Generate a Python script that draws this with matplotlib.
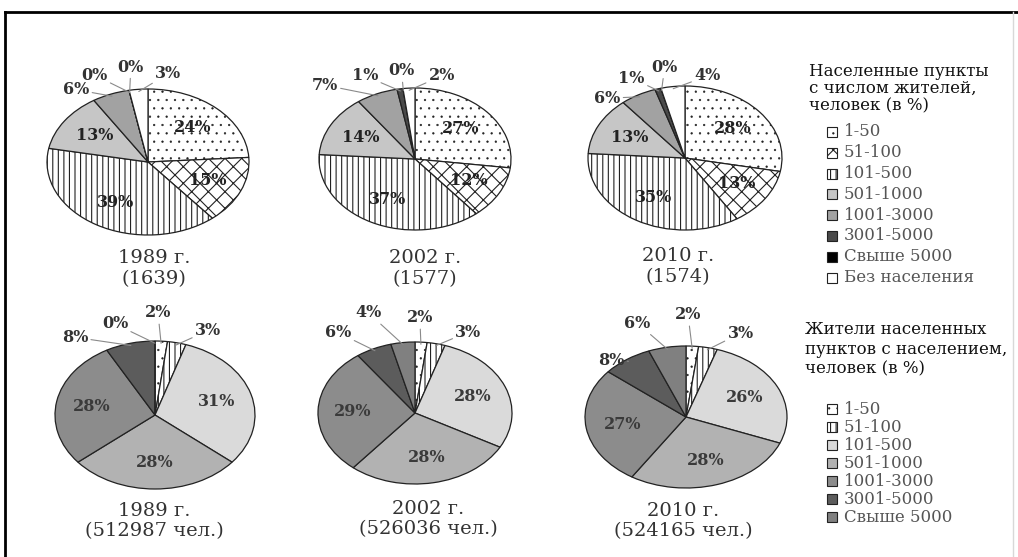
import matplotlib
matplotlib.use("Agg")
import matplotlib.pyplot as plt
from matplotlib.lines import Line2D
from matplotlib.patches import Rectangle
import numpy as np

plt.rcParams['font.family'] = ['DejaVu Serif']
plt.rcParams['hatch.linewidth'] = 0.8

# settlements by size group, share of settlements (%)
years = ['1989 г.', '2002 г.', '2010 г.']
settl_totals = ['(1639)', '(1577)', '(1574)']
settl_groups = ['1-50', '51-100', '101-500', '501-1000', '1001-3000',
                '3001-5000', 'Свыше 5000', 'Без населения']
settl_1989 = [24, 15, 39, 13, 6, 0, 0, 3]
settl_2002 = [27, 12, 37, 14, 7, 1, 0, 2]
settl_2010 = [28, 13, 35, 13, 6, 1, 0, 4]

# residents by settlement size group (%)
resid_totals = ['(512987 чел.)', '(526036 чел.)', '(524165 чел.)']
resid_groups = ['1-50', '51-100', '101-500', '501-1000', '1001-3000',
                '3001-5000', 'Свыше 5000']
resid_1989 = [2, 3, 31, 28, 28, 8, 0]
resid_2002 = [2, 3, 28, 28, 29, 6, 4]
resid_2010 = [2, 3, 26, 28, 27, 8, 6]

settl_title = ['Населенные пункты', 'с числом жителей,', 'человек (в %)']
resid_title = ['Жители населенных', 'пунктов с населением,', 'человек (в %)']

# styles
settl_colors = ['white', 'white', 'white', '#c6c6c6', '#a2a2a2', '#4a4a4a', '#000000', 'white']
settl_hatch = ['..', 'xx', '|||', '', '', '', '', '']
resid_colors = ['white', 'white', '#dadada', '#b2b2b2', '#8c8c8c', '#5c5c5c', '#808080']
resid_hatch = ['..', '|||', '', '', '', '', '']

W, H = 1018, 557
fig = plt.figure(figsize=(W / 100, H / 100), dpi=100)


def fx(x):
    return x / W


def fy(y):
    return 1 - y / H


def thin_dots(patch, hatch):
    # dotted fill reads better with a finer hatch stroke
    if hatch == '..' and hasattr(patch, 'set_hatch_linewidth'):
        patch.set_hatch_linewidth(0.4)


# pie geometry in pixels: centre x, centre y, radius x, radius y
top_geo = [(148, 162, 101, 73), (415, 159, 96, 71), (685, 158, 97, 72)]
bot_geo = [(155, 415, 100, 74), (415, 413, 97, 71), (686, 417, 101, 71)]

# outside label positions (fraction of radii), keyed by slice index
top_out = [
    {4: (-0.71, 0.99), 5: (-0.53, 1.19), 6: (-0.17, 1.30), 7: (0.20, 1.21)},
    {4: (-0.94, 1.04), 5: (-0.52, 1.17), 6: (-0.14, 1.24), 7: (0.28, 1.17)},
    {4: (-0.80, 0.83), 5: (-0.55, 1.11), 6: (-0.21, 1.26), 7: (0.23, 1.14)},
]
bot_out = [
    {5: (-0.80, 1.05), 6: (-0.40, 1.23), 0: (0.03, 1.38), 1: (0.53, 1.14)},
    {5: (-0.79, 1.13), 6: (-0.48, 1.41), 0: (0.05, 1.34), 1: (0.55, 1.14)},
    {5: (-0.74, 0.80), 6: (-0.48, 1.32), 0: (0.02, 1.44), 1: (0.54, 1.18)},
]

# captions centre x, y of first line
top_cap = [(154, 258), (425, 258), (678, 256)]
bot_cap = [(154, 511), (428, 509), (683, 511)]


def draw_pie(vals, geo, colors, hatches, outside, inner_color):
    cx, cy, rx, ry = geo
    ax = fig.add_axes([fx(cx - rx), fy(cy + ry), 2 * rx / W, 2 * ry / H])
    wedges, _ = ax.pie(vals, startangle=90, counterclock=False, colors=colors,
                       hatch=hatches, radius=1,
                       wedgeprops=dict(edgecolor='#222222', linewidth=0.9))
    ax.set_aspect('auto')
    ax.set_xlim(-1, 1)
    ax.set_ylim(-1, 1)
    ax.axis('off')
    for i, (w, v) in enumerate(zip(wedges, vals)):
        thin_dots(w, hatches[i])
        mid = np.deg2rad((w.theta1 + w.theta2) / 2)
        txt = f'{v}%'
        if i in outside:
            lx, ly = outside[i]
            ax.annotate(txt, xy=(0.97 * np.cos(mid), 0.97 * np.sin(mid)),
                        xytext=(lx, ly), ha='center', va='center',
                        fontsize=11.5, fontweight='bold', color='#333333',
                        annotation_clip=False,
                        arrowprops=dict(arrowstyle='-', color='#8a8a8a', lw=0.8,
                                        shrinkA=0, shrinkB=0))
        else:
            ax.text(0.64 * np.cos(mid), 0.64 * np.sin(mid), txt,
                    ha='center', va='center', fontsize=11.5,
                    fontweight='bold', color=inner_color)


settl_data = [settl_1989, settl_2002, settl_2010]
resid_data = [resid_1989, resid_2002, resid_2010]

for k in range(3):
    draw_pie(settl_data[k], top_geo[k], settl_colors, settl_hatch, top_out[k], '#222222')
    draw_pie(resid_data[k], bot_geo[k], resid_colors, resid_hatch, bot_out[k], '#3a3a3a')
    x, y = top_cap[k]
    fig.text(fx(x), fy(y), years[k], ha='center', va='center', fontsize=14, color='#333333')
    fig.text(fx(x), fy(y + 21), settl_totals[k], ha='center', va='center', fontsize=14, color='#333333')
    x, y = bot_cap[k]
    fig.text(fx(x), fy(y), years[k], ha='center', va='center', fontsize=14, color='#333333')
    fig.text(fx(x), fy(y + 20), resid_totals[k], ha='center', va='center', fontsize=14, color='#333333')


def draw_legend(title, title_x, title_y, title_step, names, colors, hatches, item_y, item_step):
    for j, line in enumerate(title):
        fig.text(fx(title_x), fy(title_y + j * title_step), line, ha='left', va='center',
                 fontsize=12, color='#111111')
    for j, name in enumerate(names):
        yy = item_y + j * item_step
        box = Rectangle((fx(827), fy(yy + 5)), 10 / W, 10 / H,
                        transform=fig.transFigure, facecolor=colors[j],
                        hatch=hatches[j], edgecolor='#222222', linewidth=0.8)
        thin_dots(box, hatches[j])
        fig.add_artist(box)
        fig.text(fx(844), fy(yy), name, ha='left', va='center', fontsize=12, color='#555555')


draw_legend(settl_title, 809, 71, 17.5, settl_groups, settl_colors, settl_hatch, 132, 20.8)
draw_legend(resid_title, 805, 330, 19.5, resid_groups, resid_colors, resid_hatch, 409, 18)

# outer frame
fig.add_artist(Line2D([fx(5), 1], [fy(12), fy(12)], transform=fig.transFigure, color='black', lw=2))
fig.add_artist(Line2D([fx(5), fx(5)], [fy(12), 0], transform=fig.transFigure, color='black', lw=2))
fig.add_artist(Line2D([fx(1013), fx(1013)], [fy(12), 0], transform=fig.transFigure, color='#d8d8d8', lw=1))

fig.savefig('out.png', dpi=100)
